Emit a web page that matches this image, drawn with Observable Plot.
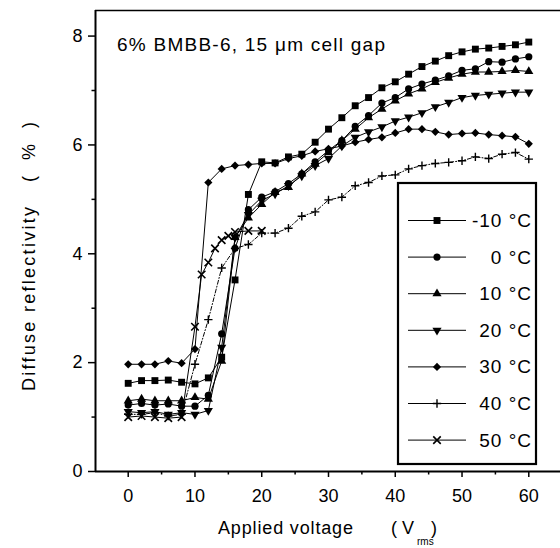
<!DOCTYPE html>
<html><head><meta charset="utf-8">
<script src="https://cdn.jsdelivr.net/npm/d3@7"></script>
<script src="https://cdn.jsdelivr.net/npm/@observablehq/plot@0.6"></script>
<style>
html,body{margin:0;padding:0;background:#fff;}
#chart{position:relative;width:560px;height:548px;overflow:hidden;}
</style></head><body><div id="chart"></div>
<script>
// ---- data ----
const voltage = [0,2,4,6,8,10,12,14,16,18,20,22,24,26,28,30,32,34,36,38,40,42,44,46,48,50,52,54,56,58,60];
const voltage50 = [0,2,4,6,8,10,11,12,13,14,15,16,18,20];
const rMinus10 = [1.62,1.67,1.67,1.68,1.64,1.61,1.72,2.10,3.52,5.09,5.69,5.67,5.78,5.83,6.05,6.29,6.50,6.72,6.87,7.05,7.16,7.30,7.44,7.54,7.64,7.71,7.76,7.78,7.81,7.84,7.89];
const r0 = [1.22,1.25,1.22,1.24,1.20,1.20,1.40,2.53,4.10,4.81,5.04,5.14,5.29,5.47,5.69,5.90,6.08,6.34,6.54,6.77,6.87,7.03,7.12,7.19,7.27,7.37,7.40,7.53,7.52,7.58,7.62];
const r10 = [1.30,1.33,1.30,1.30,1.30,1.36,1.33,2.03,4.30,4.66,4.91,5.13,5.22,5.47,5.65,5.86,6.08,6.29,6.50,6.66,6.81,6.94,7.03,7.15,7.23,7.30,7.34,7.34,7.35,7.37,7.35];
const r20 = [1.10,1.08,1.10,1.05,1.08,1.05,1.12,2.28,4.30,4.72,4.98,5.10,5.25,5.43,5.62,5.75,5.98,6.14,6.24,6.33,6.44,6.51,6.59,6.70,6.78,6.87,6.91,6.93,6.95,6.97,6.97];
const r30 = [1.97,1.97,1.97,2.03,1.99,2.25,5.31,5.56,5.62,5.64,5.66,5.66,5.75,5.80,5.88,5.93,5.98,6.05,6.10,6.14,6.22,6.29,6.29,6.24,6.19,6.21,6.22,6.19,6.17,6.15,6.02];
const r40 = [1.05,1.05,1.08,1.02,1.05,1.97,2.79,3.74,4.10,4.17,4.38,4.38,4.47,4.69,4.77,4.99,5.04,5.25,5.31,5.43,5.45,5.56,5.62,5.66,5.68,5.71,5.78,5.75,5.83,5.86,5.74];
const r50 = [1.00,1.02,1.00,0.98,1.00,2.66,3.62,3.84,4.10,4.25,4.33,4.40,4.42,4.42];

const seriesNames = ["-10 °C","0 °C","10 °C","20 °C","30 °C","40 °C","50 °C"];
const xMajor = [0,10,20,30,40,50,60];
const xMinor = [5,15,25,35,45,55];
const yMajor = [0,2,4,6,8];
const yMinor = [1,3,5,7];
const xDomain = [-4.9, 64.75];
const yDomain = [0, 8.47];

const titleText = "6% BMBB-6, 15 μm cell gap";
const xLabelText = "Applied voltage";
const yLabelText = "Diffuse reflectivity";

// ---- build table ----
const seriesX = [voltage, voltage, voltage, voltage, voltage, voltage, voltage50];
const seriesY = [rMinus10, r0, r10, r20, r30, r40, r50];
const rows = [];
seriesNames.forEach((s, i) => seriesX[i].forEach((v, j) => rows.push({s, v, r: seriesY[i][j]})));

const styles = {
  "-10 °C": {symbol: "square",   d3s: d3.symbolSquare,   r: 3.9, fill: "black", stroke: "none", sw: 0, rotate: 0},
  "0 °C":   {symbol: "circle",   d3s: d3.symbolCircle,   r: 3.6, fill: "black", stroke: "none", sw: 0, rotate: 0},
  "10 °C":  {symbol: "triangle", d3s: d3.symbolTriangle, r: 3.4, fill: "black", stroke: "none", sw: 0, rotate: 0},
  "20 °C":  {symbol: "triangle", d3s: d3.symbolTriangle, r: 3.4, fill: "black", stroke: "none", sw: 0, rotate: 180},
  "30 °C":  {symbol: "diamond2", d3s: d3.symbolDiamond2, r: 3.7, fill: "black", stroke: "none", sw: 0, rotate: 0},
  "40 °C":  {symbol: "plus",     d3s: d3.symbolPlus,     r: 2.8, fill: "none",  stroke: "black", sw: 1.4, rotate: 0},
  "50 °C":  {symbol: "times",    d3s: d3.symbolTimes,    r: 3.5, fill: "none",  stroke: "black", sw: 1.6, rotate: 0}
};

const font = "'Liberation Sans', Arial, Helvetica, sans-serif";
const fmt = d3.format("d");
const marks = [
  Plot.ruleY([yDomain[1]], {stroke: "black", strokeWidth: 1.5}),
  Plot.ruleX([xDomain[0]], {stroke: "black", strokeWidth: 2}),
  Plot.ruleY([yDomain[0]], {stroke: "black", strokeWidth: 2}),
  Plot.axisX(xMajor, {tickSize: 6, tickPadding: 12, strokeWidth: 1.5, tickFormat: fmt, label: null}),
  Plot.axisX(xMinor, {tickSize: 3.5, tickFormat: () => "", strokeWidth: 1.5, label: null}),
  Plot.axisY(yMajor, {tickSize: 7, tickPadding: 6, strokeWidth: 1.5, tickFormat: fmt, label: null}),
  Plot.axisY(yMinor, {tickSize: 3.5, tickFormat: () => "", strokeWidth: 1.5, label: null})
];
seriesNames.forEach(s => {
  const data = rows.filter(d => d.s === s);
  marks.push(Plot.line(data, {x: "v", y: "r", stroke: "black", strokeWidth: 1,
    strokeDasharray: s === "40 °C" ? "4,2,1,2" : null}));
});
seriesNames.forEach(s => {
  const st = styles[s];
  const data = rows.filter(d => d.s === s);
  marks.push(Plot.dot(data, {x: "v", y: "r", symbol: st.symbol, r: st.r, fill: st.fill,
    stroke: st.stroke, strokeWidth: st.sw, rotate: st.rotate}));
});

const svg = Plot.plot({
  width: 560, height: 548,
  marginLeft: 95, marginRight: 0, marginTop: 10, marginBottom: 77,
  x: {domain: xDomain, label: null},
  y: {domain: yDomain, label: null},
  style: {fontFamily: font, fontSize: "18px", color: "black", background: "white", overflow: "visible"},
  marks
});
document.getElementById("chart").append(svg);

// ---- annotations & legend ----
const g = d3.select(svg).append("g").attr("font-family", font).attr("fill", "black")
  .attr("text-anchor", "start");

g.append("text").attr("x", 117).attr("y", 51).attr("font-size", 19)
  .attr("textLength", 268).attr("lengthAdjust", "spacing").text(titleText);

g.append("text").attr("x", 218).attr("y", 534).attr("font-size", 18)
  .attr("textLength", 135).attr("lengthAdjust", "spacing").text(xLabelText);
g.append("text").attr("x", 391).attr("y", 534).attr("font-size", 18).text("( V");
g.append("text").attr("x", 417).attr("y", 545).attr("font-size", 10).text("rms");
g.append("text").attr("x", 431).attr("y", 534).attr("font-size", 18).text(")");

g.append("text").attr("transform", "translate(35,391) rotate(-90)").attr("font-size", 18)
  .attr("textLength", 184).attr("lengthAdjust", "spacing").text(yLabelText);
g.append("text").attr("transform", "translate(35,182) rotate(-90)").attr("font-size", 18)
  .attr("textLength", 60).attr("lengthAdjust", "spacing").text("( % )");

const lg = g.append("g");
lg.append("rect").attr("x", 398).attr("y", 183).attr("width", 138).attr("height", 281)
  .attr("fill", "white").attr("stroke", "black").attr("stroke-width", 2.2);
seriesNames.forEach((s, i) => {
  const st = styles[s];
  const cy = 220.5 + i * 36.6;
  lg.append("line").attr("x1", 408).attr("x2", 466).attr("y1", cy).attr("y2", cy)
    .attr("stroke", "black").attr("stroke-width", 1);
  lg.append("path").attr("d", d3.symbol(st.d3s, Math.PI * st.r * st.r)())
    .attr("transform", `translate(437,${cy}) rotate(${st.rotate})`)
    .attr("fill", st.fill).attr("stroke", st.stroke).attr("stroke-width", st.sw);
  lg.append("text").attr("x", 532).attr("y", cy + 6.5).attr("font-size", 19)
    .attr("text-anchor", "end").attr("letter-spacing", 1).text(s);
});
</script>
</body></html>
